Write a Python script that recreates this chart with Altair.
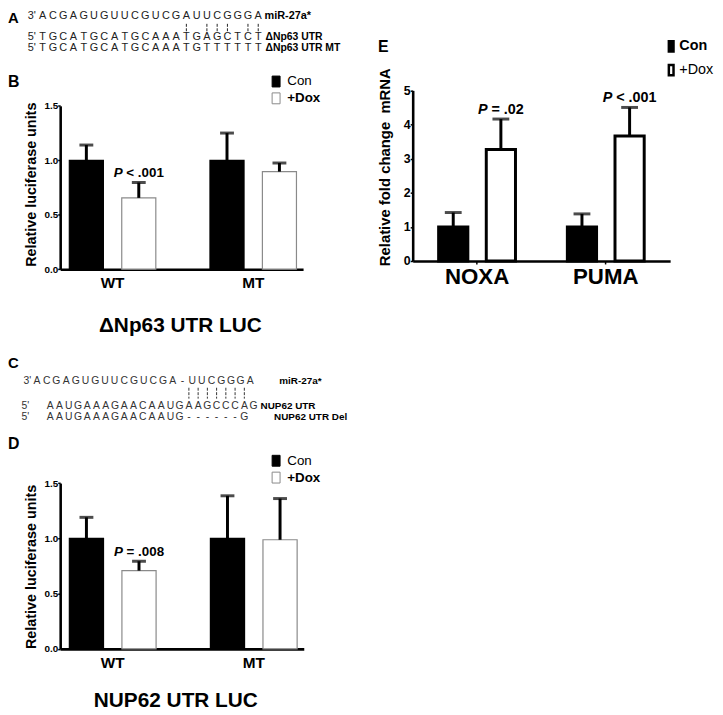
import altair as alt
import pandas as pd

FONT = "Liberation Sans"
W, H = 714, 706

# ---------------- data ----------------
conds = ["Con", "+Dox"]
groups_BD = ["WT", "MT"]
groups_E = ["NOXA", "PUMA"]

B_mean = [1.00, 0.655, 1.00, 0.896]
B_top = [1.14, 0.796, 1.25, 0.975]
D_mean = [1.00, 0.708, 1.00, 0.987]
D_top = [1.19, 0.793, 1.385, 1.36]
E_mean = [1.00, 3.27, 1.00, 3.66]
E_top = [1.42, 4.16, 1.38, 4.50]

B_p = [("WT", "+Dox", "< .001")]
D_p = [("WT", "+Dox", "= .008")]
E_p = [("NOXA", "+Dox", "= .02"), ("PUMA", "+Dox", "< .001")]

seqA = ["ACGAGUGUUCGUCGAUUCGGGA", "TGCATGCATGCAAATGAGCTCT", "TGCATGCATGCAAATGTTTTTT"]
prefA = ["3'", "5'", "5'"]
namesA = ["miR-27a*", "\u0394Np63 UTR", "\u0394Np63 UTR MT"]
pairsA = [14, 16, 17, 18, 20, 21]

seqC = ["ACGAGUGUUCGUCGA-UUCGGGA", "AAUGAAAGAACAAUGAAGCCCAG", "AAUGAAAGAACAAUG------G"]
prefC = ["3'", "5'", "5'"]
namesC = ["miR-27a*", "NUP62 UTR", "NUP62 UTR Del"]
pairsC = [15, 16, 17, 18, 19, 20, 21]

titleB = "\u0394Np63 UTR LUC"
titleD = "NUP62 UTR LUC"
ytitle_BD = "Relative luciferase units"
ytitle_E = "Relative fold change\u00a0 mRNA"

# ---------------- helpers ----------------
AX = dict(domainColor="black", tickColor="black", labelColor="black", titleColor="black",
          labelFont=FONT, titleFont=FONT, grid=False)

WID = {"P": 667, " ": 278, "<": 584, "=": 584, ".": 278}


def tw(s, fs):
    return sum(WID.get(c, 556) for c in s) * fs / 1000.0


def txt(text, x, y, fs, weight="bold", align="left", color="black", style="normal"):
    return alt.Chart(pd.DataFrame({"t": [text]})).mark_text(
        font=FONT, fontSize=fs, fontWeight=weight, align=align, baseline="middle",
        color=color, fontStyle=style
    ).encode(x=alt.value(x), y=alt.value(y), text="t:N")


def bar_panel(groups, means, tops, plist, xrange, xpi, xpo, xalign, opi, ydom, yrange,
              yvals, yfmt, yfs, ytitle, ytfs, ytx, yty, xfs, xpad, xticks,
              fill_rng, stroke_rng, bar_sw, legend, cap, pfs, pdy):
    df = pd.DataFrame({
        "group": [g for g in groups for _ in conds],
        "cond": conds * len(groups),
        "mean": means,
        "top": tops,
    })
    xe = alt.X("group:N", sort=groups,
               scale=alt.Scale(range=xrange, paddingInner=xpi, paddingOuter=xpo, align=xalign),
               axis=alt.Axis(orient="bottom", offset=yrange[0] - H, title=None, labelAngle=0,
                             labelFontSize=xfs, labelFontWeight="bold", labelPadding=xpad,
                             ticks=xticks, tickSize=3 if xticks else 0, tickWidth=1.5,
                             domainWidth=2.6, **AX))
    xo = alt.XOffset("cond:N", sort=conds, scale=alt.Scale(paddingInner=opi, paddingOuter=0))

    def ye(field):
        return alt.Y(field + ":Q",
                     scale=alt.Scale(domain=ydom, range=yrange, nice=False),
                     axis=alt.Axis(orient="left", offset=-xrange[0], values=yvals, format=yfmt,
                                   title=ytitle, titleX=ytx, titleY=yty, titleAngle=270,
                                   titleAlign="center", titleBaseline="middle",
                                   titleFontSize=ytfs, titleFontWeight="bold",
                                   labelFontSize=yfs, labelFontWeight="bold", labelPadding=0,
                                   tickSize=2.5, tickWidth=1.5, domainWidth=2.6, **AX))

    base = alt.Chart(df).encode(x=xe, xOffset=xo)
    bars = base.mark_bar(strokeWidth=bar_sw).encode(
        y=ye("mean"),
        fill=alt.Fill("cond:N", sort=conds, scale=alt.Scale(domain=conds, range=fill_rng), legend=legend),
        stroke=alt.Stroke("cond:N", sort=conds, scale=alt.Scale(domain=conds, range=stroke_rng), legend=legend),
    )
    errs = base.mark_rule(color="black", strokeWidth=3).encode(y=ye("mean"), y2="top:Q")
    caps = base.mark_tick(color="black", thickness=3, size=cap).encode(y=ye("top"))
    layers = [bars, errs, caps]
    for g, c, rest in plist:
        k = groups.index(g) * len(conds) + conds.index(c)
        pdf = pd.DataFrame({"group": [g], "cond": [c], "top": [tops[k]], "p": ["P"], "rest": [rest]})
        full = "P " + rest
        dxp = -tw(full, pfs) / 2 + tw("P", pfs)
        dxr = dxp + tw(" ", pfs)
        pb = alt.Chart(pdf).encode(x=xe, xOffset=xo, y=ye("top"))
        layers.append(pb.mark_text(font=FONT, fontSize=pfs, fontWeight="bold", fontStyle="italic",
                                   align="right", baseline="middle", dx=dxp, dy=pdy, color="black")
                      .encode(text="p:N"))
        layers.append(pb.mark_text(font=FONT, fontSize=pfs, fontWeight="bold",
                                   align="left", baseline="middle", dx=dxr, dy=pdy, color="black")
                      .encode(text="rest:N"))
    return alt.layer(*layers)


def seq_group(seqs, prefs, pidx, ys, n, xrange, fs, color, pairs=None, pair_y=None):
    xs = alt.X("i:Q", scale=alt.Scale(domain=[0, n - 1], range=xrange, nice=False, zero=False), axis=None)
    layers = []
    for s, p, y in zip(seqs, prefs, ys):
        df = pd.DataFrame({"i": [pidx] + list(range(len(s))), "ch": [p] + list(s)})
        layers.append(alt.Chart(df).mark_text(font=FONT, fontSize=fs, color=color, baseline="middle",
                                              align="center").encode(x=xs, y=alt.value(y), text="ch:N"))
    if pairs is not None:
        layers.append(alt.Chart(pd.DataFrame({"i": pairs})).mark_rule(
            color=color, strokeWidth=1, strokeDash=[3, 1.5]).encode(
            x=xs, y=alt.value(pair_y[0]), y2=alt.value(pair_y[1])))
    return alt.layer(*layers)


WEIGHT_BD = {"expr": "datum.label == '+Dox' ? 'bold' : 'normal'"}
WEIGHT_E = {"expr": "datum.label == 'Con' ? 'bold' : 'normal'"}


def leg(x, y, path, size, sw, fs, weight, rowpad, off, scolor=None):
    kw = dict(orient="none", legendX=x, legendY=y, title=None, symbolType=path, symbolSize=size,
              symbolStrokeWidth=sw, labelFont=FONT, labelFontSize=fs, labelFontWeight=weight,
              labelColor="black", rowPadding=rowpad, labelOffset=off, padding=0)
    if scolor:
        kw["symbolStrokeColor"] = scolor
    return alt.Legend(**kw)


# ---------------- panels ----------------
panelA = seq_group(seqA, prefA, -1.05, [4.5, 25.5, 36.5], 22, [35, 252.7], 11, "#222222",
                   pairs=pairsA, pair_y=[12.5, 20])
panelC1 = seq_group(seqC[:1], prefC[:1], -1, [373], 23, [29.3, 244.7], 10.5, "#333333")
panelC2 = seq_group(seqC[1:], prefC[1:], -2.7, [398, 410], 23, [42.7, 248], 10.5, "#333333",
                    pairs=pairsC, pair_y=[380, 391])

legBD_common = dict(path="M-0.73,-1H0.73V1H-0.73Z", size=121, sw=1, fs=13.5, weight=WEIGHT_BD,
                    rowpad=1, off=4.5)

panelB = bar_panel(groups_BD, B_mean, B_top, B_p, [52.7, 298], 0.385, 0.056, 0.58, 0.35,
                   [0, 1.5], [260.3, 95.3], [0, 0.5, 1, 1.5], ".1f", 10,
                   ytitle_BD, 14.5, -28.7, 174.5, 15.5, 6.5, False,
                   ["black", "white"], ["black", "#8a8a8a"], 1.2,
                   leg(264, 64, **legBD_common), 14, 13.5, -9.5)

panelD = bar_panel(groups_BD, D_mean, D_top, D_p, [52.7, 298.7], 0.385, 0.056, 0.58, 0.35,
                   [0, 1.5], [643.7, 476.3], [0, 0.5, 1, 1.5], ".1f", 10,
                   ytitle_BD, 14.5, -28.7, 560.5, 15.5, 6.5, False,
                   ["black", "white"], ["black", "#8a8a8a"], 1.2,
                   leg(264, 447, **legBD_common), 14, 13.5, -9.5)

panelE = bar_panel(groups_E, E_mean, E_top, E_p, [408.7, 668.7], 0.403, 0.2015, 0.5, 0.387,
                   [0, 5], [252, 79.7], [0, 1, 2, 3, 4, 5], "d", 12.5,
                   ytitle_E, 15, -28.4, 156.8, 22.5, 2, True,
                   ["black", "white"], ["black", "black"], 3,
                   leg(662.5, 28, "M-0.45,-1H0.45V1H-0.45Z", 110, 2.5, 14.5, WEIGHT_E, 3, 1, "black"),
                   17, 14.5, -9.5)

texts = [
    txt("A", 0, 7, 15),
    txt("B", 0, 71, 16),
    txt("C", 0, 355, 15),
    txt("D", 0, 437, 16),
    txt("E", 373.7, 36, 16),
    txt(namesA[0], 259, 4.5, 11),
    txt(namesA[1], 260, 25.5, 10.5),
    txt(namesA[2], 260, 36.5, 10.5),
    txt(namesC[0], 274, 373, 10),
    txt(namesC[1], 255, 398, 10),
    txt(namesC[2], 268.7, 410, 10),
    txt(titleB, 174, 317.5, 21, align="center"),
    txt(titleD, 169.5, 696.5, 21, align="center"),
]

chart = alt.layer(panelA, panelC1, panelC2, panelB, panelD, panelE, *texts).resolve_scale(
    x="independent", y="independent", xOffset="independent", fill="independent", stroke="independent"
).resolve_axis(x="independent", y="independent").resolve_legend(
    fill="independent", stroke="independent"
).properties(
    width=W, height=H, autosize=alt.AutoSizeParams(type="none"), padding=0
).configure_view(stroke=None)

chart.save("out.html", embed_options={"renderer": "svg", "actions": False})
